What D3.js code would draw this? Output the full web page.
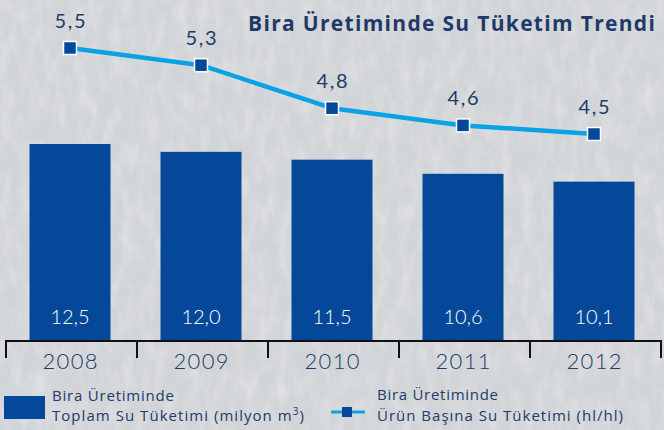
<!DOCTYPE html>
<html><head><meta charset="utf-8">
<script src="https://cdnjs.cloudflare.com/ajax/libs/d3/7.8.5/d3.min.js"></script>
<style>
html,body{margin:0;padding:0;background:#d6d9dc;}
svg{display:block;}
</style></head>
<body>
<svg id="c" width="664" height="430"></svg>
<script>
const years = ["2008","2009","2010","2011","2012"];
const totalWater = [12.5, 12.0, 11.5, 10.6, 10.1];
const perUnit = [5.5, 5.3, 4.8, 4.6, 4.5];
const title = "Bira Üretiminde Su Tüketim Trendi";
const legend1 = ["Bira Üretiminde", "Toplam Su Tüketimi (milyon m", "3", ")"];
const legend2 = ["Bira Üretiminde", "Ürün Başına Su Tüketimi (hl/hl)"];

const fmt = v => d3.format(".1f")(v).replace(".", ",");
const svg = d3.select("#c");
const W = 664, H = 430;
const navy = "#233a68", barCol = "#05489a", lineCol = "#0aa2e4";
const thin = "Lato, 'Open Sans', sans-serif";
const wide = "'Open Sans', Lato, sans-serif";

// stretch letter-spacing so a text element reaches a target width
function fit(sel, target) {
  sel.each(function() {
    const n = this.textContent.length;
    const w = this.getComputedTextLength();
    const ls = (target - w) / Math.max(1, n - 1);
    d3.select(this).attr("letter-spacing", ls.toFixed(2));
    if (this.getAttribute("text-anchor") === "middle") {
      d3.select(this).attr("dx", (ls/2).toFixed(2));
    }
  });
}

// background texture
const defs = svg.append("defs");
const f = defs.append("filter").attr("id","tex").attr("x",0).attr("y",0).attr("width","100%").attr("height","100%");
f.append("feTurbulence").attr("type","fractalNoise").attr("baseFrequency","0.09 0.035").attr("numOctaves",3).attr("seed",7).attr("result","n");
f.append("feColorMatrix").attr("type","matrix").attr("values","0 0 0 0 1  0 0 0 0 1  0 0 0 0 1  1 0 0 0 -0.4");
svg.append("rect").attr("width",W).attr("height",H).attr("fill","#d2d5d8");
svg.append("rect").attr("width",W).attr("height",H).attr("filter","url(#tex)").attr("opacity",0.55);

const x = d3.scaleBand().domain(years).range([6, 661]).paddingInner(0).paddingOuter(0);
const barW = 81;
const cx = d => x(d) + x.bandwidth()/2 - 1.5;
const y = d3.scaleLinear().domain([0, 12.5]).range([340, 144]);
const y2 = d3.scaleLinear().domain([4.5, 5.5]).range([134, 48]);

// bars
svg.append("g").selectAll("rect").data(years).join("rect")
  .attr("x", d => cx(d) - barW/2).attr("width", barW)
  .attr("y", (d,i) => y(totalWater[i])).attr("height", (d,i) => y(0) - y(totalWater[i]))
  .attr("fill", barCol);
svg.append("g").selectAll("text").data(years).join("text")
  .attr("x", d => cx(d)).attr("y", 324).attr("text-anchor","middle")
  .attr("fill","#fff").attr("font-family",thin).attr("font-weight",300).attr("font-size",20)
  .text((d,i) => fmt(totalWater[i]));

// axis
const ax = svg.append("g").attr("stroke","#111").attr("stroke-width",2);
ax.append("line").attr("x1", x.range()[0]).attr("x2", x.range()[1]).attr("y1",341).attr("y2",341);
const bounds = years.map(d => x(d)).concat([x.range()[1]]);
ax.selectAll("line.t").data(bounds).join("line").attr("class","t")
  .attr("x1", d => d).attr("x2", d => d).attr("y1", 340).attr("y2", 358);
svg.append("g").selectAll("text").data(years).join("text")
  .attr("x", d => cx(d)).attr("y", 369).attr("text-anchor","middle")
  .attr("fill",navy).attr("font-family",thin).attr("font-weight",300).attr("font-size",22)
  .text(d => d).call(fit, 55);

// line
const line = d3.line().x((d,i) => cx(years[i])).y(d => y2(d));
svg.append("path").datum(perUnit).attr("d", line).attr("fill","none")
  .attr("stroke", lineCol).attr("stroke-width",4.5).attr("stroke-linejoin","round");
svg.append("g").selectAll("rect").data(perUnit).join("rect")
  .attr("x",(d,i) => cx(years[i]) - 6.5).attr("y", d => y2(d) - 6.5)
  .attr("width",13).attr("height",13).attr("fill",barCol).attr("stroke","#fff").attr("stroke-width",1.5);
svg.append("g").selectAll("text").data(perUnit).join("text")
  .attr("x",(d,i) => cx(years[i])).attr("y", d => y2(d) - 20).attr("text-anchor","middle")
  .attr("fill",navy).attr("font-family",thin).attr("font-weight",400).attr("font-size",20)
  .text(d => fmt(d)).call(fit, 31);

// title
svg.append("text").attr("x",248).attr("y",31)
  .attr("fill","#1f3a6a").attr("font-family","'Open Sans', sans-serif").attr("font-weight",700).attr("font-size",21)
  .text(title).call(fit, 407);

// legend
const lg = svg.append("g").attr("fill",navy).attr("font-family",wide).attr("font-size",15);
lg.append("rect").attr("x",4).attr("y",396).attr("width",41).attr("height",23).attr("fill",barCol);
lg.append("text").attr("x",52).attr("y",401).text(legend1[0]).call(fit, 122);
const t2 = lg.append("text").attr("x",52).attr("y",421);
t2.append("tspan").text(legend1[1]);
t2.append("tspan").attr("font-size",10).attr("dy",-6).text(legend1[2]);
t2.append("tspan").attr("dy",6).text(legend1[3]);
t2.call(fit, 252);
lg.append("line").attr("x1",331).attr("x2",365).attr("y1",412).attr("y2",412).attr("stroke",lineCol).attr("stroke-width",3);
lg.append("rect").attr("x",342).attr("y",407).attr("width",10).attr("height",10).attr("fill",barCol);
lg.append("text").attr("x",377).attr("y",400).text(legend2[0]).call(fit, 121);
lg.append("text").attr("x",377).attr("y",421).text(legend2[1]).call(fit, 246);
</script>
</body></html>
